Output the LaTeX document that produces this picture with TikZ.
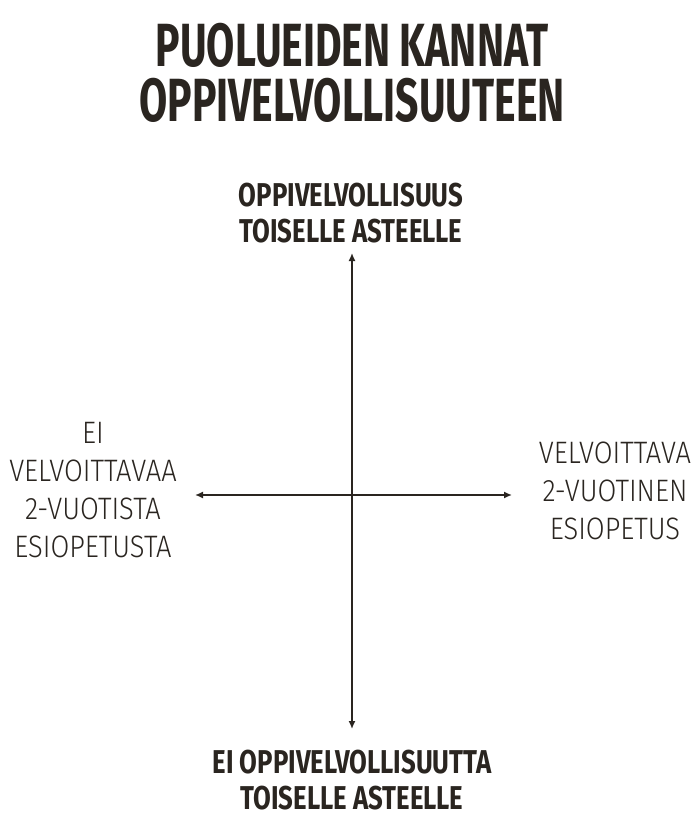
\documentclass[tikz,border=0pt]{standalone}
\usepackage{fontspec}
\setmainfont{Fira Sans}
\newfontfamily\titlecond{Fira Sans Bold}[FakeStretch=0.67]
\newfontfamily\boldcond{Fira Sans Bold}[FakeStretch=0.78]
\newfontfamily\regcond{Fira Sans Light}[FakeStretch=0.88]
\usetikzlibrary{arrows.meta}
\definecolor{ink}{RGB}{42,37,32}
\tikzset{
  titletext/.style={inner sep=0pt, anchor=north, align=center, text=ink,
    font={\titlecond\fontsize{61}{55}\selectfont}},
  axislabel/.style={inner sep=0pt, anchor=north, align=center, text=ink,
    font={\boldcond\fontsize{33}{36}\selectfont}},
  sidelabel/.style={inner sep=0pt, anchor=north, align=center, text=ink,
    font={\regcond\fontsize{31}{38}\selectfont}},
  axis/.style={draw=ink, line width=1.5pt, {Latex[length=8pt,width=7pt]}-{Latex[length=8pt,width=7pt]}}
}
\begin{document}
\begin{tikzpicture}[x=1pt,y=-1pt]
\useasboundingbox (0,0) rectangle (700,840);
\node[titletext] (title) at (352,23) {PUOLUEIDEN KANNAT\\OPPIVELVOLLISUUTEEN};
\node[axislabel] (toplab) at (351,183) {OPPIVELVOLLISUUS\\TOISELLE ASTEELLE};
\node[axislabel] (botlab) at (352,750) {EI OPPIVELVOLLISUUTTA\\TOISELLE ASTEELLE};
\node[sidelabel] (leftlab) at (93,422) {EI\\VELVOITTAVAA\\2-VUOTISTA\\ESIOPETUSTA};
\node[sidelabel] (rightlab) at (615,442) {VELVOITTAVA\\2-VUOTINEN\\ESIOPETUS};
\coordinate (vtop) at (352,253);
\coordinate (vbot) at (352,729);
\coordinate (hleft) at (195,495);
\coordinate (hright) at (512,495);
\draw[axis] (vtop) -- (vbot);
\draw[axis] (hleft) -- (hright);
\end{tikzpicture}
\end{document}
